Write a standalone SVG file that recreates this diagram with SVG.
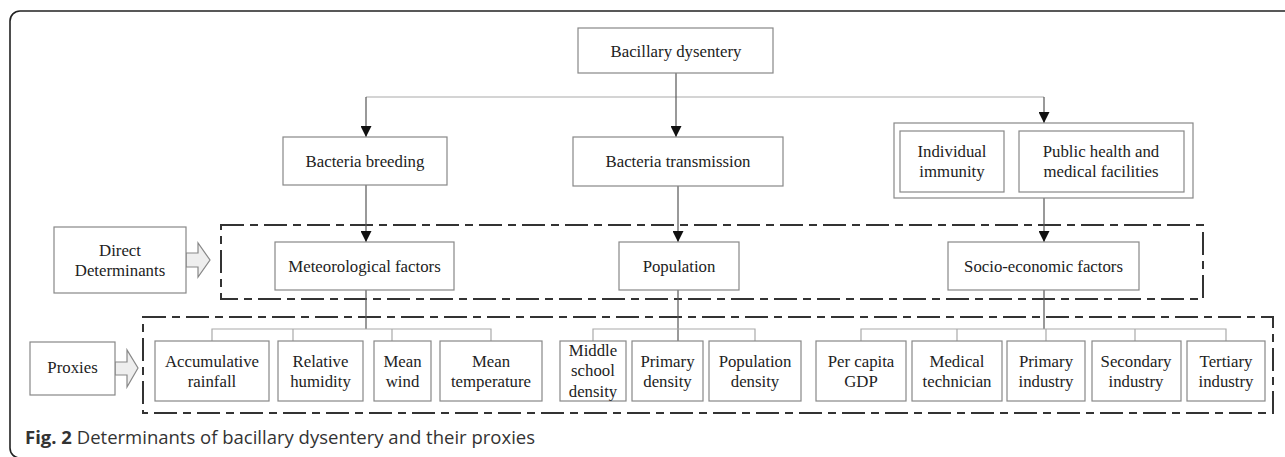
<svg xmlns="http://www.w3.org/2000/svg" width="1285" height="457" viewBox="0 0 1285 457">
<style>
.bx{fill:#fff;stroke:#888;stroke-width:1.2}
.t{font-family:"Liberation Serif","Times New Roman",serif;font-size:16.8px;fill:#222;text-anchor:middle}
.dash{fill:none;stroke:#333;stroke-width:2;stroke-dasharray:23 6 8 6}
.ln{fill:none;stroke:#555;stroke-width:1.2}
.lt{fill:none;stroke:#aaa;stroke-width:1.2}
.blk{fill:#eee;stroke:#888;stroke-width:1.2}
.cap{font-family:"Open Sans","Noto Sans",sans-serif;font-size:18.5px;fill:#333}
</style>
<defs>
<marker id="ah" markerUnits="userSpaceOnUse" markerWidth="11" markerHeight="11" refX="11" refY="5.5" orient="auto">
<path d="M0,0 L11,5.5 L0,11 z" fill="#111"/>
</marker>
</defs>
<rect x="10" y="11" width="1290" height="447" rx="10" fill="#fff" stroke="#222" stroke-width="1.6"/>
<rect class="dash" x="221" y="225" width="982" height="74"/>
<rect class="dash" x="143" y="317" width="1130" height="96"/>
<g id="connectors">
<path class="lt" d="M366,97 H1044"/>
<path class="ln" d="M676,73 V137" marker-end="url(#ah)"/>
<path class="ln" d="M366,97 V137" marker-end="url(#ah)"/>
<path class="ln" d="M1044,97 V123" marker-end="url(#ah)"/>
<path class="ln" d="M366,185 V242" marker-end="url(#ah)"/>
<path class="ln" d="M678,186 V242" marker-end="url(#ah)"/>
<path class="ln" d="M1044,198 V242" marker-end="url(#ah)"/>
<path class="ln" d="M366,290 V329"/>
<path class="lt" d="M212,341 V329 H491 V341 M293,329 V341 M392,329 V341"/>
<path class="ln" d="M678,290 V341"/>
<path class="lt" d="M593,341 V329 H755 V341"/>
<path class="ln" d="M1044,290 V329"/>
<path class="lt" d="M861,341 V329 H1226 V341 M957,329 V341 M1046,329 V341 M1135,329 V341"/>
<path class="blk" d="M186,253 H198 V243 L210,260 L198,277 V267 H186 Z"/>
<path class="blk" d="M115,362 H127 V350 L138,368 L127,387 V375 H115 Z"/>
</g>
<g id="n-bacillary"><rect class="bx" x="578" y="28" width="195" height="45"/><text class="t" x="676" y="56.5">Bacillary dysentery</text></g>
<g id="n-breeding"><rect class="bx" x="283" y="137" width="164" height="48"/><text class="t" x="365" y="167">Bacteria breeding</text></g>
<g id="n-transmission"><rect class="bx" x="573" y="137" width="210" height="49"/><text class="t" x="678" y="167">Bacteria transmission</text></g>
<g id="n-host"><rect class="bx" x="894" y="123" width="299" height="75"/>
<rect class="bx" x="900" y="131" width="104" height="61"/><text class="t" x="952" y="157">Individual</text><text class="t" x="952" y="177">immunity</text>
<rect class="bx" x="1019" y="131" width="165" height="61"/><text class="t" x="1101" y="157">Public health and</text><text class="t" x="1101" y="177">medical facilities</text></g>
<g id="n-direct"><rect class="bx" x="54" y="227" width="132" height="66"/><text class="t" x="120" y="255.5">Direct</text><text class="t" x="120" y="275.5">Determinants</text></g>
<g id="n-met"><rect class="bx" x="275" y="242" width="179" height="48"/><text class="t" x="364.5" y="271.5">Meteorological factors</text></g>
<g id="n-pop"><rect class="bx" x="619" y="242" width="120" height="48"/><text class="t" x="679" y="271.5">Population</text></g>
<g id="n-socio"><rect class="bx" x="948" y="242" width="191" height="48"/><text class="t" x="1043.5" y="271.5">Socio-economic factors</text></g>
<g id="n-proxies"><rect class="bx" x="30" y="342" width="85" height="53"/><text class="t" x="72.5" y="373">Proxies</text></g>
<g id="p-rain"><rect class="bx" x="155" y="341" width="114" height="60"/><text class="t" x="212" y="367">Accumulative</text><text class="t" x="212" y="387">rainfall</text></g>
<g id="p-hum"><rect class="bx" x="278" y="341" width="85" height="60"/><text class="t" x="320.5" y="367">Relative</text><text class="t" x="320.5" y="387">humidity</text></g>
<g id="p-wind"><rect class="bx" x="374" y="341" width="57" height="60"/><text class="t" x="402.5" y="367">Mean</text><text class="t" x="402.5" y="387">wind</text></g>
<g id="p-temp"><rect class="bx" x="440" y="341" width="102" height="60"/><text class="t" x="491" y="367">Mean</text><text class="t" x="491" y="387">temperature</text></g>
<g id="p-middle"><rect class="bx" x="560" y="341" width="66" height="60"/><text class="t" x="593" y="355.5">Middle</text><text class="t" x="593" y="376">school</text><text class="t" x="593" y="396.5">density</text></g>
<g id="p-primd"><rect class="bx" x="632" y="341" width="71" height="60"/><text class="t" x="667.5" y="367">Primary</text><text class="t" x="667.5" y="387">density</text></g>
<g id="p-popd"><rect class="bx" x="709" y="341" width="92" height="60"/><text class="t" x="755" y="367">Population</text><text class="t" x="755" y="387">density</text></g>
<g id="p-gdp"><rect class="bx" x="816" y="341" width="90" height="60"/><text class="t" x="861" y="367">Per capita</text><text class="t" x="861" y="387">GDP</text></g>
<g id="p-med"><rect class="bx" x="912" y="341" width="90" height="60"/><text class="t" x="957" y="367">Medical</text><text class="t" x="957" y="387">technician</text></g>
<g id="p-prim"><rect class="bx" x="1007" y="341" width="78" height="60"/><text class="t" x="1046" y="367">Primary</text><text class="t" x="1046" y="387">industry</text></g>
<g id="p-sec"><rect class="bx" x="1092" y="341" width="89" height="60"/><text class="t" x="1136" y="367">Secondary</text><text class="t" x="1136" y="387">industry</text></g>
<g id="p-ter"><rect class="bx" x="1187" y="341" width="78" height="60"/><text class="t" x="1226" y="367">Tertiary</text><text class="t" x="1226" y="387">industry</text></g>
<text class="cap" x="25" y="444"><tspan font-weight="bold">Fig. 2</tspan> Determinants of bacillary dysentery and their proxies</text>
</svg>
